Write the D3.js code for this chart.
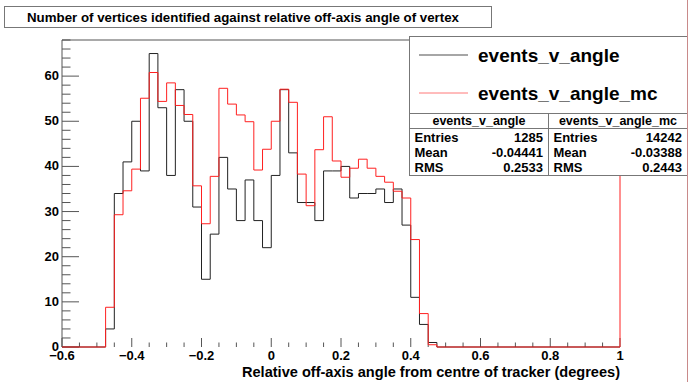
<!DOCTYPE html>
<html>
<head>
<meta charset="utf-8">
<script src="https://cdn.jsdelivr.net/npm/d3@7"></script>
<style>
  html, body { margin: 0; padding: 0; background: #fff; }
  svg { display: block; }
  text { font-family: "Liberation Sans", Arial, Helvetica, sans-serif; font-weight: bold; fill: #000; }
</style>
</head>
<body>
<svg id="chart" width="691" height="382"></svg>
<script>
// Histogram binning (degrees)
const binStart = -0.475;
const binWidth = 0.025;

// Data histogram: events_v_angle (counts per bin)
const dataCounts = [4, 34, 41, 50, 39, 65, 53, 38, 57, 50, 31, 15, 25, 42, 35, 28, 37, 28, 22, 38,
                    57, 43, 32, 32, 28, 39, 39, 40, 33, 34, 34, 35, 32, 35, 27, 11, 5, 1];

// Simulation histogram: events_v_angle_mc (scaled counts per bin)
const mcCounts = [8.8, 29.3, 34.6, 39.4, 55.1, 60.8, 54.4, 58.5, 53.5, 51.5, 35.7, 27.3, 37.8, 57.3,
                  53.8, 51.4, 49.9, 39.2, 43.8, 50.0, 57.1, 54.2, 38.3, 31.3, 43.7, 51.0, 41.2, 37.6,
                  39.6, 41.6, 39.6, 37.8, 36.5, 34.5, 33.0, 23.8, 7.4, 0.5];

// Axis ranges and ticks
const xDomain = [-0.6, 1];
const yDomain = [0, 68];
const xMajorTicks = [-0.6, -0.4, -0.2, 0, 0.2, 0.4, 0.6, 0.8, 1];
const xMinorStep = 0.05;
const yMajorTicks = [0, 10, 20, 30, 40, 50, 60];
const yMinorStep = 2;

// Legend and statistics
const seriesNames = ["events_v_angle", "events_v_angle_mc"];
const statLabels = ["Entries", "Mean", "RMS"];
const statValues = [["1285", "-0.04441", "0.2533"], ["14242", "-0.03388", "0.2443"]];

const titleText = "Number of vertices identified against relative off-axis angle of vertex";
const xTitle = "Relative off-axis angle from centre of tracker (degrees)";

const svg = d3.select("#chart");
const frame = { left: 62, right: 620, top: 40, bottom: 347 };

const x = d3.scaleLinear().domain(xDomain).range([frame.left, frame.right]);
const y = d3.scaleLinear().domain(yDomain).range([frame.bottom, frame.top]);

const axisColor = "#555";

// Frame (left and top edges)
svg.append("line").attr("x1", x(xDomain[0])).attr("x2", x(xDomain[0]))
  .attr("y1", y(yDomain[0])).attr("y2", y(yDomain[1])).attr("stroke", axisColor);
svg.append("line").attr("x1", x(xDomain[0])).attr("x2", x(xDomain[1]))
  .attr("y1", y(yDomain[1])).attr("y2", y(yDomain[1])).attr("stroke", axisColor);

// Y axis ticks (drawn inward)
const yMinor = d3.range(yDomain[0], yDomain[1] + 0.001, yMinorStep);
svg.append("g").selectAll("line").data(yMinor).join("line")
  .attr("x1", x(xDomain[0])).attr("x2", d => x(xDomain[0]) + (d % 10 === 0 ? 17 : 8.5))
  .attr("y1", d => y(d)).attr("y2", d => y(d)).attr("stroke", axisColor);
svg.append("g").selectAll("text").data(yMajorTicks).join("text")
  .attr("x", x(xDomain[0]) - 3).attr("y", d => y(d) + 4)
  .attr("text-anchor", "end").attr("font-size", 13).text(d => d);

// X axis ticks (drawn upward)
const xMinor = d3.range(0, Math.round((xDomain[1] - xDomain[0]) / xMinorStep) + 1)
  .map(i => xDomain[0] + i * xMinorStep);
svg.append("g").selectAll("line").data(xMinor).join("line")
  .attr("x1", d => x(d)).attr("x2", d => x(d))
  .attr("y1", y(0)).attr("y2", (d, i) => y(0) - (i % 4 === 0 ? 9 : 4.5))
  .attr("stroke", axisColor);
svg.append("g").selectAll("text").data(xMajorTicks).join("text")
  .attr("x", d => x(d)).attr("y", 360)
  .attr("text-anchor", "middle").attr("font-size", 13)
  .text(d => d3.format("")(+d.toFixed(1)));

svg.append("text").attr("x", x(xDomain[1])).attr("y", 377)
  .attr("text-anchor", "end").attr("font-size", 14)
  .attr("textLength", 378).attr("lengthAdjust", "spacingAndGlyphs").text(xTitle);

// Step outline of a histogram, closed to zero across the full axis range
function stepPoints(counts) {
  const pts = [[xDomain[0], 0], [binStart, 0]];
  counts.forEach((v, i) => {
    const lo = binStart + i * binWidth, hi = lo + binWidth;
    pts.push([lo, v], [hi, v]);
  });
  pts.push([binStart + counts.length * binWidth, 0], [xDomain[1], 0]);
  return pts;
}
const line = d3.line().x(d => x(d[0])).y(d => y(d[1]));

const dataColor = "#222";
const mcColor = "#ff2020";

svg.append("path").attr("d", line(stepPoints(dataCounts)))
  .attr("fill", "none").attr("stroke", dataColor).attr("stroke-width", 1);

const mcPts = stepPoints(mcCounts);
mcPts.push([xDomain[1], yDomain[1]]);  // upper edge of the mc range
svg.append("path").attr("d", line(mcPts))
  .attr("fill", "none").attr("stroke", mcColor).attr("stroke-width", 1);

// Title box
svg.append("rect").attr("x", 4.5).attr("y", 6.5).attr("width", 487).attr("height", 21)
  .attr("fill", "#fff").attr("stroke", "#777");
svg.append("text").attr("x", 243).attr("y", 21.5).attr("text-anchor", "middle")
  .attr("font-size", 13).attr("textLength", 432).attr("lengthAdjust", "spacingAndGlyphs")
  .text(titleText);

// Legend box
const leg = { x: 409.5, y: 36.5, w: 278, h: 77 };
svg.append("rect").attr("x", leg.x).attr("y", leg.y).attr("width", leg.w).attr("height", leg.h)
  .attr("fill", "#fff").attr("stroke", "#777");
[dataColor, mcColor].forEach((c, i) => {
  const ly = 55 + i * 38;
  svg.append("line").attr("x1", 419).attr("x2", 468).attr("y1", ly).attr("y2", ly)
    .attr("stroke", c).attr("stroke-width", 1).attr("opacity", i ? 0.6 : 0.8);
  svg.append("text").attr("x", 478).attr("y", ly + 6.5).attr("font-size", 19).text(seriesNames[i]);
});

// Statistics boxes
const st = { y: 113.5, h: 62, headH: 15 };
const colW = 139;
seriesNames.forEach((name, k) => {
  const sx = leg.x + k * colW;
  const g = svg.append("g");
  g.append("rect").attr("x", sx).attr("y", st.y).attr("width", colW).attr("height", st.h)
    .attr("fill", "#fff").attr("stroke", "#777");
  g.append("line").attr("x1", sx).attr("x2", sx + colW)
    .attr("y1", st.y + st.headH).attr("y2", st.y + st.headH).attr("stroke", "#777");
  g.append("text").attr("x", sx + colW / 2).attr("y", st.y + 11.5)
    .attr("text-anchor", "middle").attr("font-size", 12.5)
    .style("font-weight", "600").text(name);
  statLabels.forEach((lab, r) => {
    const by = st.y + 28 + r * 15.2;
    g.append("text").attr("x", sx + 5).attr("y", by).attr("font-size", 13).text(lab);
    g.append("text").attr("x", sx + colW - 5.5).attr("y", by).attr("text-anchor", "end")
      .attr("font-size", 13).text(statValues[k][r]);
  });
});

// Canvas right edge
svg.append("line").attr("x1", 687.5).attr("x2", 687.5).attr("y1", 0).attr("y2", 382)
  .attr("stroke", "#c98a8a");
</script>
</body>
</html>
